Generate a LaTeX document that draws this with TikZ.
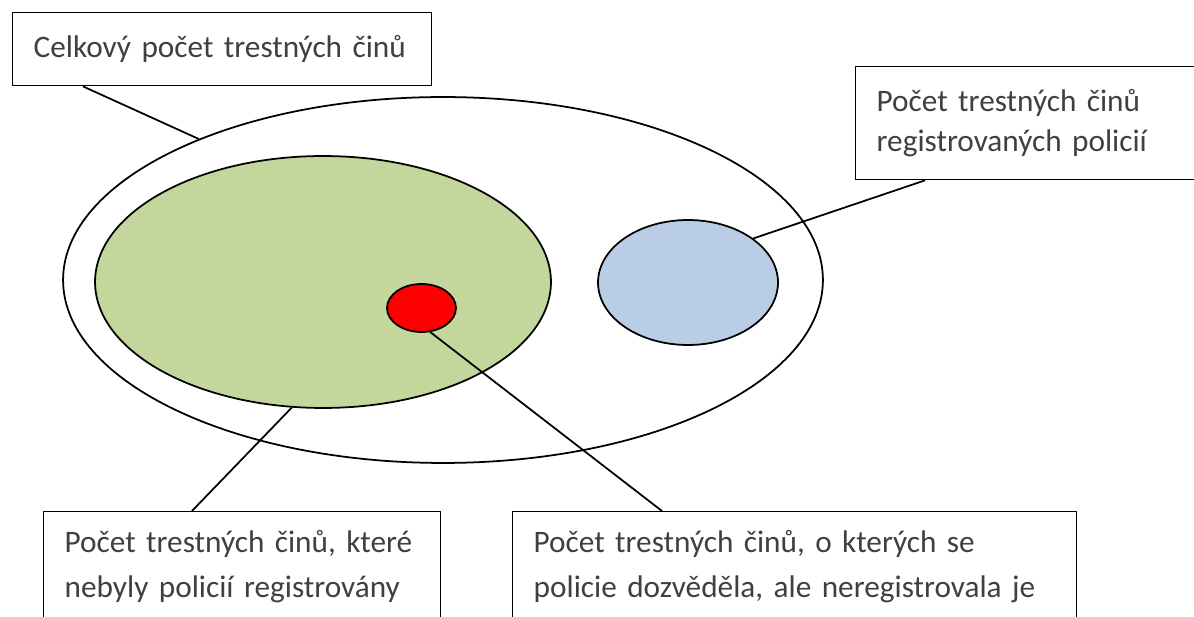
\documentclass[tikz,border=0pt]{standalone}
\usepackage{fontspec}
\setmainfont{Carlito}
\usetikzlibrary{shapes.geometric}
\definecolor{setgreen}{HTML}{C3D69B}
\definecolor{setblue}{HTML}{B9CDE5}
\definecolor{labeltext}{HTML}{404040}

\begin{document}
\begin{tikzpicture}[x=0.02cm,y=-0.02cm,
	set/.style={ellipse,draw,line width=1pt,inner sep=0pt},
	caption/.style={draw,line width=0.8pt,fill=white,anchor=north west,align=left,
		inner xsep=0.42cm,inner ysep=0.38cm,text=labeltext,
		font=\fontsize{17.8}{22.7}\selectfont},
	lowcaption/.style={caption,text depth=2cm,font=\fontsize{17.8}{25.5}\selectfont}]
	\clip (0,0) rectangle (1194,617);
	\node[set,fill=white,minimum width=15.2cm,minimum height=7.32cm] (all) at (443,280) {};
	\node[set,fill=setgreen,minimum width=9.12cm,minimum height=5.04cm] (unreg) at (323,282) {};
	\node[set,fill=red,minimum width=1.38cm,minimum height=0.96cm] (known) at (421.5,308) {};
	\node[set,fill=setblue,minimum width=3.6cm,minimum height=2.5cm] (reg) at (688,282.5) {};

	\node[caption,text width=7.54cm,minimum height=1.46cm] (allbox) at (12,12)
		{Celkový počet trestných činů};
	\node[caption,text width=7.2cm,minimum height=2.26cm] (regbox) at (855,66)
		{Počet trestných činů\\ registrovaných policií};
	\node[lowcaption,text width=7.1cm] (unregbox) at (43,511)
		{Počet trestných činů, které\\ nebyly policií registrovány};
	\node[lowcaption,text width=10.44cm] (knownbox) at (512,511)
		{Počet trestných činů, o kterých se\\ policie dozvěděla, ale neregistrovala je};

	\draw[line width=1pt] ([xshift=1.42cm]allbox.south west) -- (all.150);
	\draw[line width=1pt] ([xshift=1.4cm]regbox.south west) -- (reg.34);
	\draw[line width=1pt] (unreg.256) -- ([xshift=2.98cm]unregbox.north west);
	\draw[line width=1pt] (known.-70) -- ([xshift=3cm]knownbox.north west);
\end{tikzpicture}
\end{document}
